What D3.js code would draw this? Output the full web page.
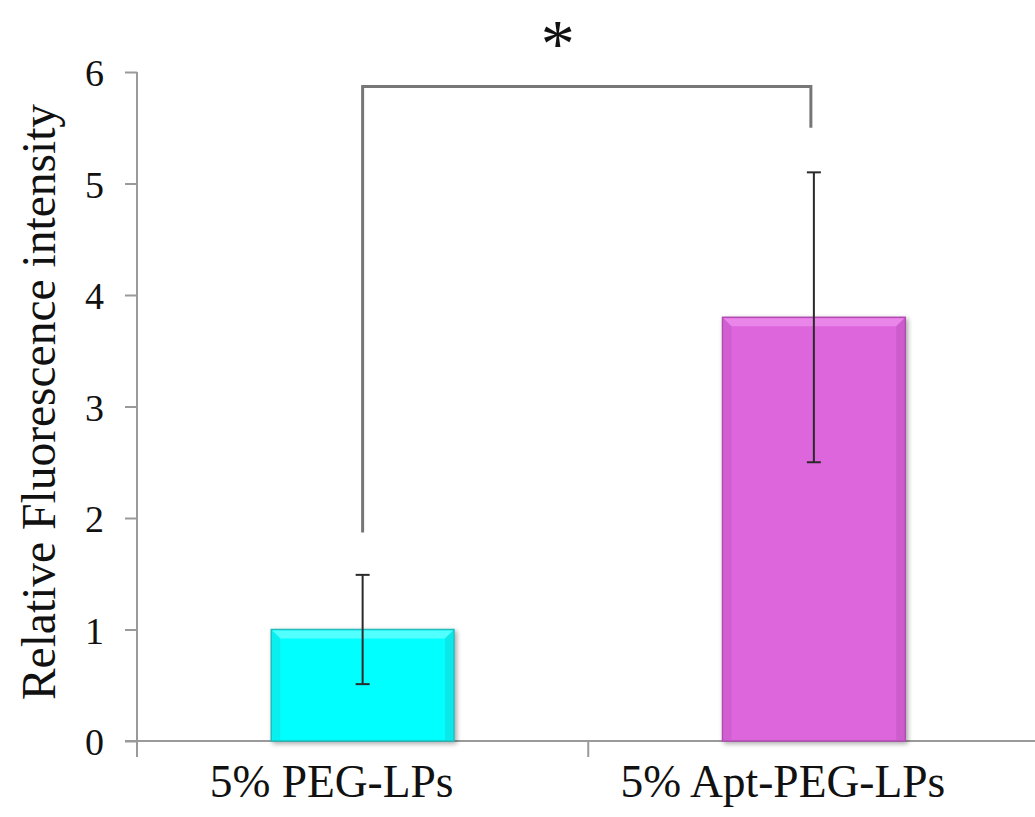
<!DOCTYPE html>
<html>
<head>
<meta charset="utf-8">
<script src="https://cdn.jsdelivr.net/npm/d3@7"></script>
<style>
  html, body { margin: 0; padding: 0; background: #fff; }
  svg { display: block; }
  text { font-family: "Liberation Serif", "Times New Roman", serif; fill: #111; }
</style>
</head>
<body>
<svg id="chart" width="1035" height="817"></svg>
<script>
const categories = ["5% PEG-LPs", "5% Apt-PEG-LPs"];
const values = [1.0, 3.8];
const errLow = [0.51, 2.5];
const errHigh = [1.49, 5.1];
const barColors = ["#00FFFF", "#DD66DD"];
const barEdge = ["#22BBBB", "#B04CB0"];
const barHighlight = ["#66FFFF", "#EE8FEE"];
const yTicks = [0, 1, 2, 3, 4, 5, 6];
const bracket = { from: 0, to: 1, leftBottom: 1.87, rightBottom: 5.5, top: 5.87, label: "*" };
const yLabel = "Relative Fluorescence intensity";

const svg = d3.select("#chart");
const x0 = 137, x1 = 1039.5;
const y = d3.scaleLinear().domain([0, 6]).range([741, 72]);
const x = d3.scaleBand().domain(categories).range([x0, x1]).paddingInner(0.595).paddingOuter(0.2975);
const xGroup = d3.scaleBand().domain(categories).range([x0, x1]);

const axisColor = "#9a9a9a";

// y axis
const yAxis = svg.append("g").attr("transform", `translate(${x0},0)`)
  .call(d3.axisLeft(y).tickValues(yTicks).tickSize(12).tickPadding(21).tickFormat(d3.format("d")));
yAxis.select(".domain").attr("stroke", axisColor).attr("stroke-width", 2).attr("d", `M0,${y(6)}H0V${y(0)+16}`);
yAxis.selectAll(".tick line").attr("stroke", axisColor).attr("stroke-width", 2);
yAxis.selectAll(".tick text").attr("font-size", 38).attr("font-family", "Liberation Serif").attr("fill", "#111").attr("dy", "0.36em");

// x axis
const xAxisG = svg.append("g");
xAxisG.append("line").attr("x1", x0 - 12).attr("x2", 1035).attr("y1", y(0)).attr("y2", y(0))
  .attr("stroke", axisColor).attr("stroke-width", 2);
const boundaries = [x0, xGroup(categories[1]), x1];
xAxisG.selectAll("line.sep").data(boundaries).join("line").attr("class", "sep")
  .attr("x1", d => d).attr("x2", d => d).attr("y1", y(0)).attr("y2", y(0) + 16)
  .attr("stroke", axisColor).attr("stroke-width", 2);
xAxisG.selectAll("text.cat").data(categories).join("text").attr("class", "cat")
  .attr("x", d => xGroup(d) + xGroup.bandwidth() / 2 - 31)
  .attr("y", 797).attr("text-anchor", "middle").attr("font-size", 45.5)
  .text(d => d);

// bars
const defs = svg.append("defs");
const f = defs.append("filter").attr("id", "shadow").attr("x", "-10%").attr("y", "-10%").attr("width", "130%").attr("height", "130%");
f.append("feGaussianBlur").attr("in", "SourceAlpha").attr("stdDeviation", 2.5);
f.append("feOffset").attr("dx", 2).attr("dy", 2).attr("result", "b");
f.append("feComponentTransfer").append("feFuncA").attr("type", "linear").attr("slope", 0.35);
const fm = f.append("feMerge");
fm.append("feMergeNode");
fm.append("feMergeNode").attr("in", "SourceGraphic");

const bars = svg.append("g");
const bw = x.bandwidth();
categories.forEach((c, i) => {
  const bx = x(c), by = y(values[i]), bh = y(0) - y(values[i]);
  const g = bars.append("g");
  g.append("rect").attr("x", bx).attr("y", by).attr("width", bw).attr("height", bh)
    .attr("fill", barColors[i]).attr("stroke", barEdge[i]).attr("stroke-width", 1.5)
    .attr("filter", "url(#shadow)");
  const bev = 9;
  g.append("path")
    .attr("d", `M${bx+1},${by+1}H${bx+bw-1}L${bx+bw-bev},${by+bev}H${bx+bev}Z`)
    .attr("fill", barHighlight[i]).attr("opacity", 0.8);
  g.append("path")
    .attr("d", `M${bx+1},${by+1}L${bx+bev},${by+bev}V${y(0)-1}H${bx+1}Z`)
    .attr("fill", barEdge[i]).attr("opacity", 0.25);
  g.append("path")
    .attr("d", `M${bx+bw-1},${by+1}L${bx+bw-bev},${by+bev}V${y(0)-1}H${bx+bw-1}Z`)
    .attr("fill", barEdge[i]).attr("opacity", 0.35);
});

// error bars
const eb = svg.append("g").attr("stroke", "#2a2a2a").attr("stroke-width", 2);
categories.forEach((c, i) => {
  const cx = x(c) + bw / 2;
  eb.append("line").attr("x1", cx).attr("x2", cx).attr("y1", y(errLow[i])).attr("y2", y(errHigh[i]));
  [errLow[i], errHigh[i]].forEach(v => {
    eb.append("line").attr("x1", cx - 7).attr("x2", cx + 7).attr("y1", y(v)).attr("y2", y(v));
  });
});

// significance bracket
const lx = x(categories[bracket.from]) + bw / 2;
const rx = x(categories[bracket.to]) + bw / 2 - 3;
svg.append("path")
  .attr("d", `M${lx},${y(bracket.leftBottom)}V${y(bracket.top)}H${rx}V${y(bracket.rightBottom)}`)
  .attr("fill", "none").attr("stroke", "#777").attr("stroke-width", 3);
svg.append("text").attr("x", (lx + rx) / 2 - 29).attr("y", 66).attr("text-anchor", "middle")
  .attr("font-size", 68).text(bracket.label);

// y label
svg.append("text").attr("transform", `translate(55,402) rotate(-90)`)
  .attr("text-anchor", "middle").attr("font-size", 47.5).text(yLabel);
</script>
</body>
</html>
